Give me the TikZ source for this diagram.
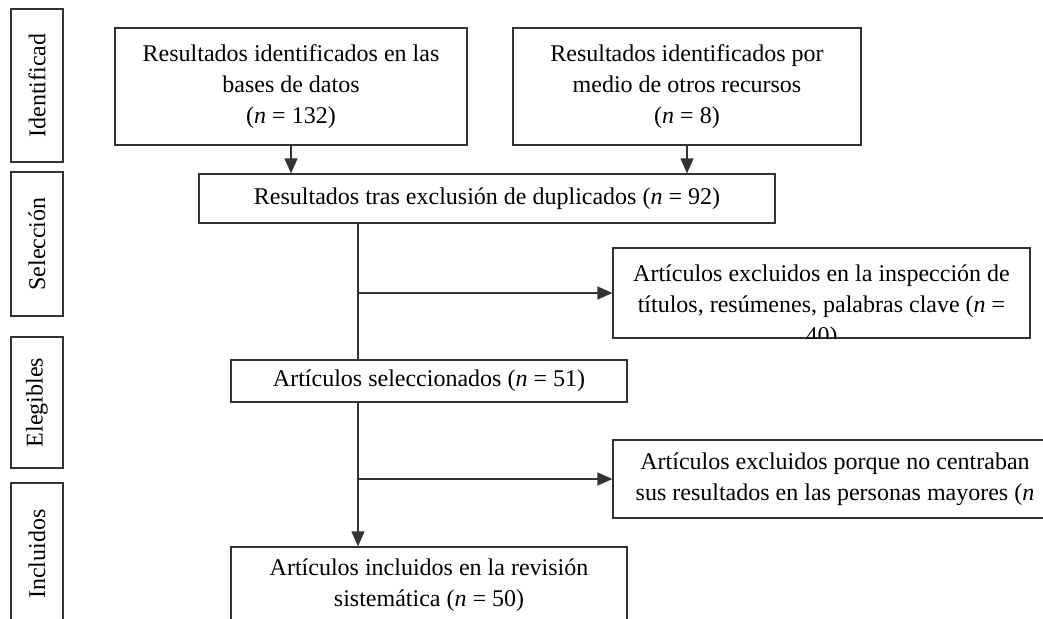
\documentclass[tikz,border=0pt]{standalone}
\usepackage{fontspec}
\setmainfont{Liberation Serif}
\usetikzlibrary{arrows.meta,positioning}

\begin{document}
\begin{tikzpicture}[x=1pt, y=-1pt, line width=1.2pt,
	box/.style={rectangle, draw=black!80, align=center, inner sep=0pt,
		font=\fontsize{24}{31}\selectfont},
	side/.style={box, rotate=90, minimum height=52pt},
	arr/.style={-{Triangle[length=15pt,width=13pt]}}]
	
	\useasboundingbox (0,0) rectangle (1043,618);
	\clip (0,0) rectangle (1043,618);
	
	% fases
	\node[side, minimum width=153pt] (id) at (37,85.5) {Identificad};
	\node[side, minimum width=144pt] (selec) at (37,244) {Selección};
	\node[side, minimum width=131pt] (eleg) at (37,402.5) {Elegibles};
	\node[side, minimum width=142pt] (inc) at (37,554) {Incluidos};
	
	% cajas
	\node[box, minimum width=352pt, minimum height=117pt] (bd) at (291,86.5) {Resultados identificados en las\\bases de datos\\(\textit{n} = 132)};
	\node[box, minimum width=348pt, minimum height=117pt] (otros) at (687,86.5) {Resultados identificados por\\medio de otros recursos\\(\textit{n} = 8)};
	\node[box, minimum width=576pt, minimum height=49pt] (dup) at (487,198.5) {Resultados tras exclusión de duplicados (\textit{n} = 92)};
	\node[box, minimum width=417pt, minimum height=90pt] (excl1) at (821.5,293) {};
	\node[box, minimum width=396pt, minimum height=42pt] (sel) at (429,381) {Artículos seleccionados (\textit{n} = 51)};
	\node[box, minimum width=444pt, minimum height=78pt] (excl2) at (835,479) {Artículos excluidos porque no centraban\\sus resultados en las personas mayores (\textit{n}};
	\node[box, minimum width=396pt, minimum height=76pt] (incl) at (429,585) {Artículos incluidos en la revisión\\sistemática (\textit{n} = 50)};
	
	\begin{scope}
		\clip (excl1.north west) rectangle (excl1.south east);
		\node[box, draw=none, anchor=north] (excl1txt) at ([yshift=-17pt]excl1.north) {Artículos excluidos en la inspección de\\títulos, resúmenes, palabras clave (\textit{n} =\\40)};
	\end{scope}
	
	\coordinate (tronco) at (358,0);
	
	\path[arr, every edge/.append style={draw=black!80}]
	(bd.south) edge (bd.south |- dup.north)
	(otros.south) edge (otros.south |- dup.north)
	(dup.south -| tronco) edge[-] (sel.north -| tronco)
	(excl1.west -| tronco) edge (excl1.west)
	(sel.south -| tronco) edge (incl.north -| tronco)
	(excl2.west -| tronco) edge (excl2.west);
	
\end{tikzpicture}
\end{document}
